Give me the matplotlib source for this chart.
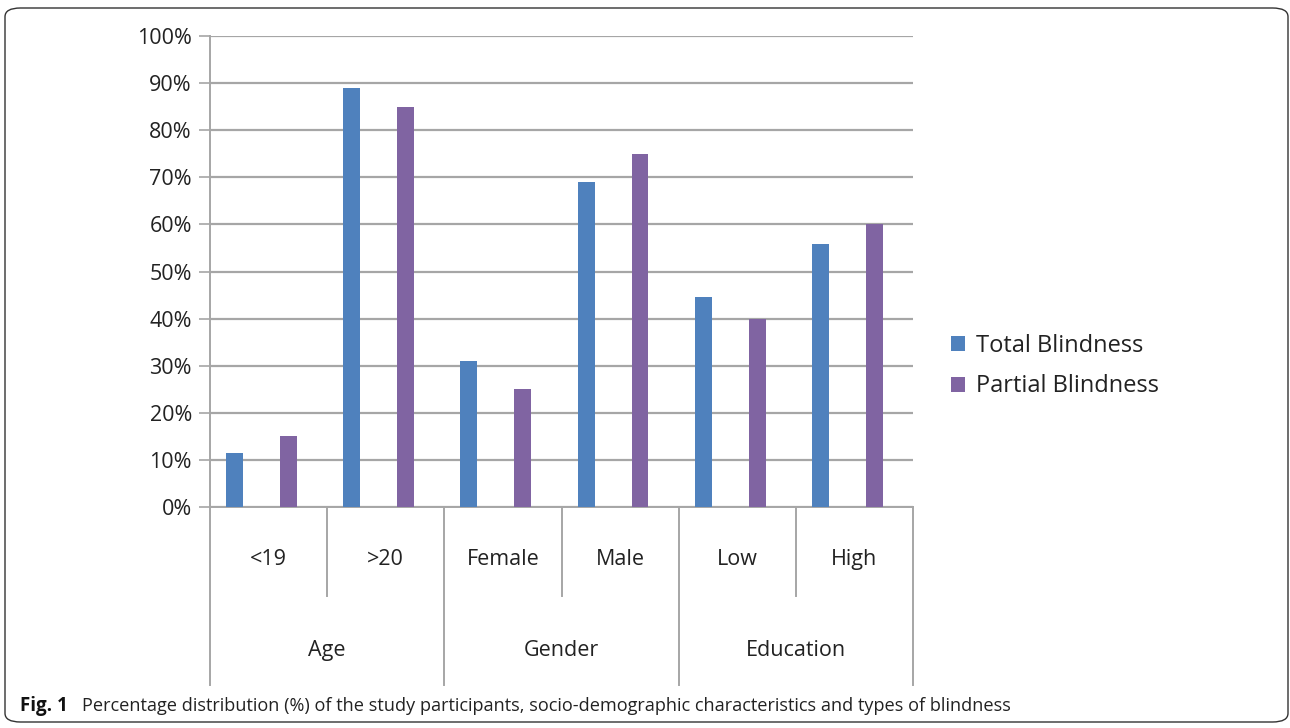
import matplotlib
matplotlib.use("Agg")
from matplotlib import pyplot as plt
from matplotlib.patches import FancyBboxPatch
import numpy as np

# categories and percentages
sub_labels = ["<19", ">20", "Female", "Male", "Low", "High"]
groups = ["Age", "Gender", "Education"]
total_blind = [11.4, 89, 31.1, 69, 44.5, 55.8]
partial_blind = [15, 85, 25, 75, 40, 60]
yticks = [0, 10, 20, 30, 40, 50, 60, 70, 80, 90, 100]

blue = "#4f81bd"
purple = "#8064a2"
grid_c = "#a6a6a6"

plt.rcParams["font.family"] = ["Open Sans", "DejaVu Sans"]

W, H = 1290, 728
fig = plt.figure(figsize=(W / 100, H / 100), dpi=100)
ax = fig.add_axes([210 / W, 1 - 507 / H, (913 - 210) / W, (507 - 36) / H])

x = np.arange(len(sub_labels))
ax.bar(x - 0.29, total_blind, width=0.145, color=blue, label="Total Blindness", zorder=3)
ax.bar(x + 0.17, partial_blind, width=0.145, color=purple, label="Partial Blindness", zorder=3)

ax.set_xlim(-0.5, len(sub_labels) - 0.5)
ax.set_ylim(0, 100)
ax.set_yticks(yticks)
ax.set_yticklabels([f"{v}%" for v in yticks], fontsize=15.5, color="#222222")
ax.yaxis.grid(True, color=grid_c, linewidth=1.6, zorder=0)
ax.tick_params(axis="y", length=8, width=1.2, color=grid_c, pad=5)
ax.set_xticks([])
for s in ["top", "right"]:
    ax.spines[s].set_visible(False)
for s in ["left", "bottom"]:
    ax.spines[s].set_color(grid_c)
    ax.spines[s].set_linewidth(1.4)

# two-level category axis below the plot
tr = ax.get_xaxis_transform()
for i in range(1, len(sub_labels), 2):
    ax.plot([i - 0.5, i - 0.5], [0, -0.189], transform=tr, color=grid_c, lw=1.4, clip_on=False)
for i in range(0, len(sub_labels) + 1, 2):
    ax.plot([i - 0.5, i - 0.5], [0, -0.378], transform=tr, color=grid_c, lw=1.4, clip_on=False)
for i, lab in enumerate(sub_labels):
    ax.text(i, -0.112, lab, transform=tr, ha="center", va="center", fontsize=15.5, color="#222222")
for g, lab in enumerate(groups):
    ax.text(2 * g + 0.5, -0.305, lab, transform=tr, ha="center", va="center", fontsize=15.5, color="#222222")

fig.legend(loc="center left", bbox_to_anchor=(951 / W, 1 - 366 / H), frameon=False,
           fontsize=17, handlelength=0.6, handleheight=0.6, handletextpad=0.45,
           labelspacing=0.72, borderpad=0, borderaxespad=0, labelcolor="#222222")

# caption and frame
fig.text(20 / W, 1 - 706 / H, "Fig. 1", fontsize=13.5, fontweight="bold", va="center", color="#111111")
fig.text(82 / W, 1 - 706 / H,
         "Percentage distribution (%) of the study participants, socio-demographic characteristics and types of blindness",
         fontsize=13.1, va="center", color="#222222")
frame = FancyBboxPatch((5 / W, 1 - 722 / H), (1288 - 5) / W, (722 - 8) / H,
                       boxstyle="round,pad=0,rounding_size=0.012", transform=fig.transFigure,
                       fill=False, edgecolor="#333333", linewidth=1.0)
fig.patches.append(frame)

fig.savefig("out.png", dpi=100)
